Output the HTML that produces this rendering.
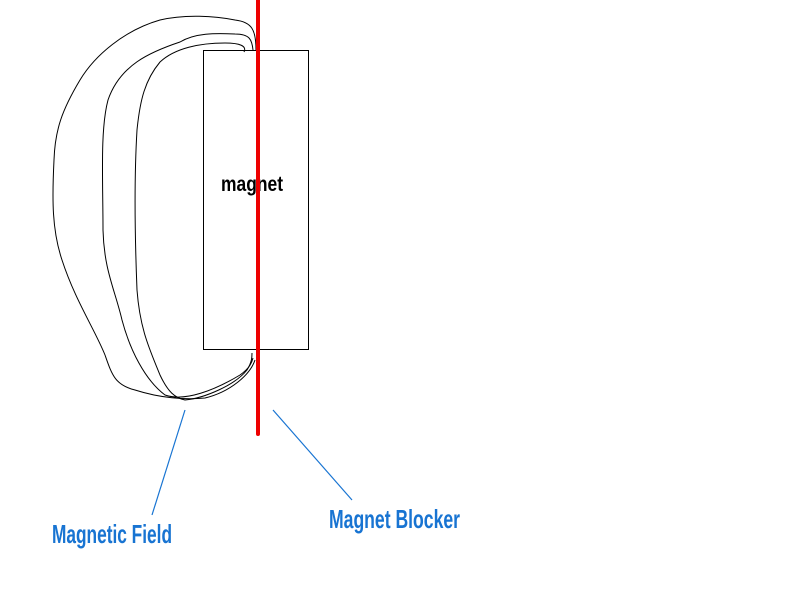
<!DOCTYPE html>
<html><head><style>html,body{margin:0;padding:0;background:#fff;width:800px;height:600px;overflow:hidden}</style></head>
<body>
<svg width="800" height="600" xmlns="http://www.w3.org/2000/svg">
<rect x="203.5" y="50.5" width="105" height="299" fill="none" stroke="#000" stroke-width="1"/>
<g fill="none" stroke="#000" stroke-width="1">
<path d="M256,50 C256,30 252,22 235,20 C215,16 185,14 160,20 C125,30 95,55 80,80 C62,110 55,130 54,160 C52,200 52,230 62,260 C75,300 95,330 105,355 C112,375 115,385 135,390 C160,398 185,400 205,398 C230,392 250,375 255,360"/>
<path d="M253,50 C252,40 250,34 235,34 C215,33 195,33 180,42 C150,52 120,65 108,100 C100,130 103,180 103,230 C104,270 115,290 122,320 C130,350 145,380 165,395 C185,402 215,390 240,375 C250,368 252,362 253,358"/>
<path d="M244,52 C247,46 240,43 225,43 C200,43 175,48 160,62 C145,80 140,100 137,130 C134,180 135,240 137,290 C140,330 150,350 160,375 C168,392 175,398 185,400 C205,398 235,385 247,370 C252,362 252,357 252,353"/>
</g>
<text x="221" y="191" font-family="Liberation Sans Narrow, Liberation Sans, sans-serif" font-weight="bold" font-size="21" textLength="62" lengthAdjust="spacingAndGlyphs" fill="#000">magnet</text>
<line x1="258" y1="0" x2="258" y2="434" stroke="#e00" stroke-width="4" stroke-linecap="round"/>
<g stroke="#1874d2" stroke-width="1.2">
<line x1="185" y1="410" x2="152" y2="515"/>
<line x1="273" y1="410" x2="352" y2="500"/>
</g>
<g font-family="Liberation Sans Narrow, Liberation Sans, sans-serif" font-weight="bold" font-size="26" fill="#1874d2">
<text x="52" y="543" textLength="120" lengthAdjust="spacingAndGlyphs">Magnetic Field</text>
<text x="329" y="528" textLength="131" lengthAdjust="spacingAndGlyphs">Magnet Blocker</text>
</g>
</svg>
</body></html>
